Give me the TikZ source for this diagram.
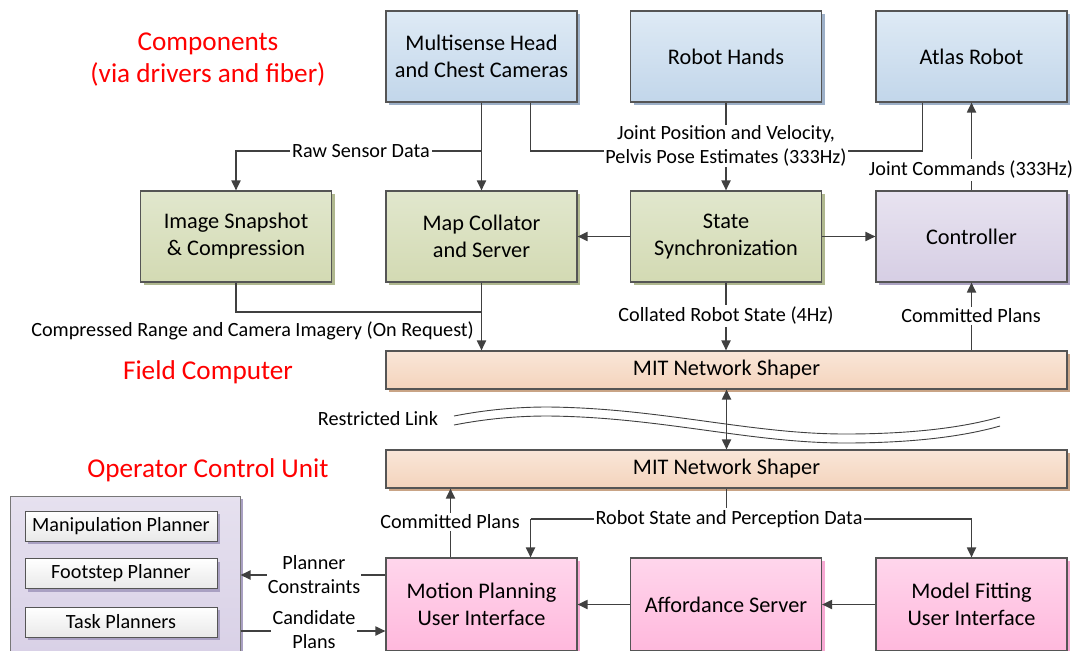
\documentclass[tikz,border=0pt]{standalone}
\usepackage{fontspec}
\setmainfont{Carlito}
\usetikzlibrary{shadows,arrows.meta,calc}
\definecolor{blueT}{HTML}{DEEAF5}\definecolor{blueB}{HTML}{C2D6EA}\definecolor{blueS}{HTML}{9DB0C8}
\definecolor{greenT}{HTML}{E1E7CD}\definecolor{greenB}{HTML}{D3DAB3}\definecolor{greenS}{HTML}{B0B88F}
\definecolor{lavT}{HTML}{E8E3F0}\definecolor{lavB}{HTML}{D6CEE4}\definecolor{lavS}{HTML}{ACA3C3}
\definecolor{peachT}{HTML}{F9E6D8}\definecolor{peachB}{HTML}{F4D3BC}\definecolor{peachS}{HTML}{C9A486}
\definecolor{pinkT}{HTML}{FFD6EC}\definecolor{pinkB}{HTML}{FFB8DC}\definecolor{pinkS}{HTML}{F7A9D3}
\definecolor{grpT}{HTML}{E6E1EF}\definecolor{grpB}{HTML}{D8D0E6}\definecolor{grpS}{HTML}{A9A0C2}
\definecolor{innT}{HTML}{FFFFFF}\definecolor{innB}{HTML}{E9E9E9}
\definecolor{cgray}{HTML}{404040}\definecolor{bgray}{HTML}{555555}
\newcommand\boxfnt{\fontsize{22.3}{27}\selectfont}
\newcommand\labfnt{\fontsize{20.2}{24}\selectfont}
\newcommand\redfnt{\fontsize{27.2}{32}\selectfont}
\tikzset{
  box/.style={draw=bgray, line width=1.1pt, minimum width=191pt, minimum height=91pt, align=center, font=\boxfnt, inner sep=0pt},
  bluebox/.style={box, top color=blueT, bottom color=blueB, drop shadow={shadow xshift=3pt,shadow yshift=-3pt,fill=blueS,opacity=1}},
  greenbox/.style={box, top color=greenT, bottom color=greenB, drop shadow={shadow xshift=3pt,shadow yshift=-3pt,fill=greenS,opacity=1}},
  lavbox/.style={box, top color=lavT, bottom color=lavB, drop shadow={shadow xshift=3pt,shadow yshift=-3pt,fill=lavS,opacity=1}},
  peachbox/.style={box, minimum width=681pt, minimum height=38pt, top color=peachT, bottom color=peachB, drop shadow={shadow xshift=3pt,shadow yshift=-3pt,fill=peachS,opacity=1}},
  pinkbox/.style={box, minimum height=93pt, top color=pinkT, bottom color=pinkB, drop shadow={shadow xshift=3pt,shadow yshift=-3pt,fill=pinkS,opacity=1}},
  grpbox/.style={draw=bgray!80, line width=1pt, minimum width=230pt, minimum height=165pt, top color=grpT, bottom color=grpB, drop shadow={shadow xshift=3pt,shadow yshift=-3pt,fill=grpS,opacity=1}},
  innbox/.style={draw=bgray, line width=1pt, minimum width=192pt, minimum height=30pt, font=\labfnt, inner sep=0pt, top color=innT, bottom color=innB, drop shadow={shadow xshift=3pt,shadow yshift=-3pt,fill=grpS,opacity=1}},
  conn/.style={draw=cgray, line width=1.8pt},
  arr/.style={conn, -{Triangle[length=10pt,width=9pt]}},
  darr/.style={conn, {Triangle[length=10pt,width=9pt]}-{Triangle[length=10pt,width=9pt]}},
  lab/.style={fill=white, font=\labfnt, inner sep=2pt, align=center},
  redlab/.style={text=red, font=\redfnt, align=center, inner sep=0pt},
  wave/.style={draw=cgray, line width=0.9pt}
}
\begin{document}
\begin{tikzpicture}[x=1pt,y=-1pt]
\useasboundingbox (0,0) rectangle (1075,650);
\clip (0,0) rectangle (1075,650);
\fill[white] (0,0) rectangle (1075,650);
% red titles
\node[redlab] (t1) at (208,60) {Components\\(via drivers and fiber)};
\node[redlab] (t2) at (208,372) {Field Computer};
\node[redlab] (t3) at (208,470) {Operator Control Unit};
% boxes
\node[bluebox] (ms) at (481.5,56.5) {Multisense Head\\and Chest Cameras};
\node[bluebox] (rh) at (726,56.5) {Robot Hands};
\node[bluebox] (ar) at (971.5,56.5) {Atlas Robot};
\node[greenbox] (is) at (236,236.5) {Image Snapshot\\\& Compression};
\node[greenbox] (mc) at (481.5,236.5) {Map Collator\\and Server};
\node[greenbox] (ss) at (726,236.5) {State\\Synchronization};
\node[lavbox] (ct) at (971.5,236.5) {Controller};
\node[peachbox] (ns1) at (726.5,370) {MIT Network Shaper};
\node[peachbox] (ns2) at (726.5,469) {MIT Network Shaper};
\node[pinkbox] (mp) at (481.5,604.5) {Motion Planning\\User Interface};
\node[pinkbox] (af) at (726,604.5) {Affordance Server};
\node[pinkbox] (mf) at (971.5,604.5) {Model Fitting\\User Interface};
\node[grpbox] (pg) at (125,578.5) {};
\node[innbox] (mpl) at (121,526) {Manipulation Planner};
\node[innbox] (fpl) at (121,573.5) {Footstep Planner};
\node[innbox] (tpl) at (121,622) {Task Planners};
% top connectors
\draw[arr] (ms.south) -- (mc.north);
\draw[arr] (ms.south |- 0,151) -| (is.north);
\node[lab] (l1) at (361,151) {Raw Sensor Data};
\draw[conn] ([xshift=-47pt]ms.south east) -- ([xshift=-47pt]ms.south east |- 0,151) -| ([xshift=47pt]ar.south west);
\draw[arr] (rh.south) -- (ss.north);
\node[lab, inner sep=1pt] (l2) at (726,146) {Joint Position and Velocity,\\Pelvis Pose Estimates (333Hz)};
\draw[arr] (ct.north) -- (ar.south);
\node[lab] (l3) at (971,170) {Joint Commands (333Hz)};
\draw[arr] (ss.west) -- (mc.east);
\draw[arr] (ss.east) -- (ct.west);
\draw[arr] (ss.south) -- (ss.south |- ns1.north);
\node[lab] (l4) at (726,316) {Collated Robot State (4Hz)};
\draw[arr] (ct.south |- ns1.north) -- (ct.south);
\node[lab] (l5) at (971,316) {Committed Plans};
\draw[conn] (is.south) |- (mc.south |- 0,312);
\draw[arr] (mc.south) -- (mc.south |- ns1.north);
\node[font=\labfnt, anchor=east, inner sep=0pt] (l6) at (474,331) {Compressed Range and Camera Imagery (On Request)};
% link
\draw[darr] (ns1.south) -- (ns2.north);
\draw[wave] (454,416) .. controls (485,410) and (515,407) .. (548,407) .. controls (660,408) and (750,434) .. (845,434) .. controls (915,434) and (965,427) .. (1000,417);
\draw[wave] (454,425) .. controls (485,419) and (515,416) .. (548,416) .. controls (660,417) and (750,443) .. (845,443) .. controls (915,443) and (965,436) .. (1000,426);
\node[font=\labfnt, inner sep=0pt] (l7) at (378,419) {Restricted Link};
% bottom connectors
\draw[conn] (ns2.south) -- (ns2.south |- 0,519);
\draw[arr] ([xshift=49pt]mp.north |- 0,519) -- ([xshift=49pt]mp.north);
\draw[arr] ([xshift=49pt]mp.north |- 0,519) -| (mf.north);
\node[lab] (l8) at (729,519) {Robot State and Perception Data};
\draw[arr] ([xshift=-31pt]mp.north) -- ([xshift=-31pt]mp.north |- ns2.south);
\node[lab] (l9) at (450,522) {Committed Plans};
\draw[arr] (af.west) -- (mp.east);
\draw[arr] (mf.west) -- (af.east);
\draw[arr] (mp.west |- 0,575) -- (pg.east |- 0,575);
\node[lab, inner sep=1pt] (l10) at (314,575) {Planner\\Constraints};
\draw[arr] (pg.east |- 0,631) -- (mp.west |- 0,631);
\node[lab, inner sep=1pt] (l11) at (314,630) {Candidate\\Plans};
\end{tikzpicture}
\end{document}
